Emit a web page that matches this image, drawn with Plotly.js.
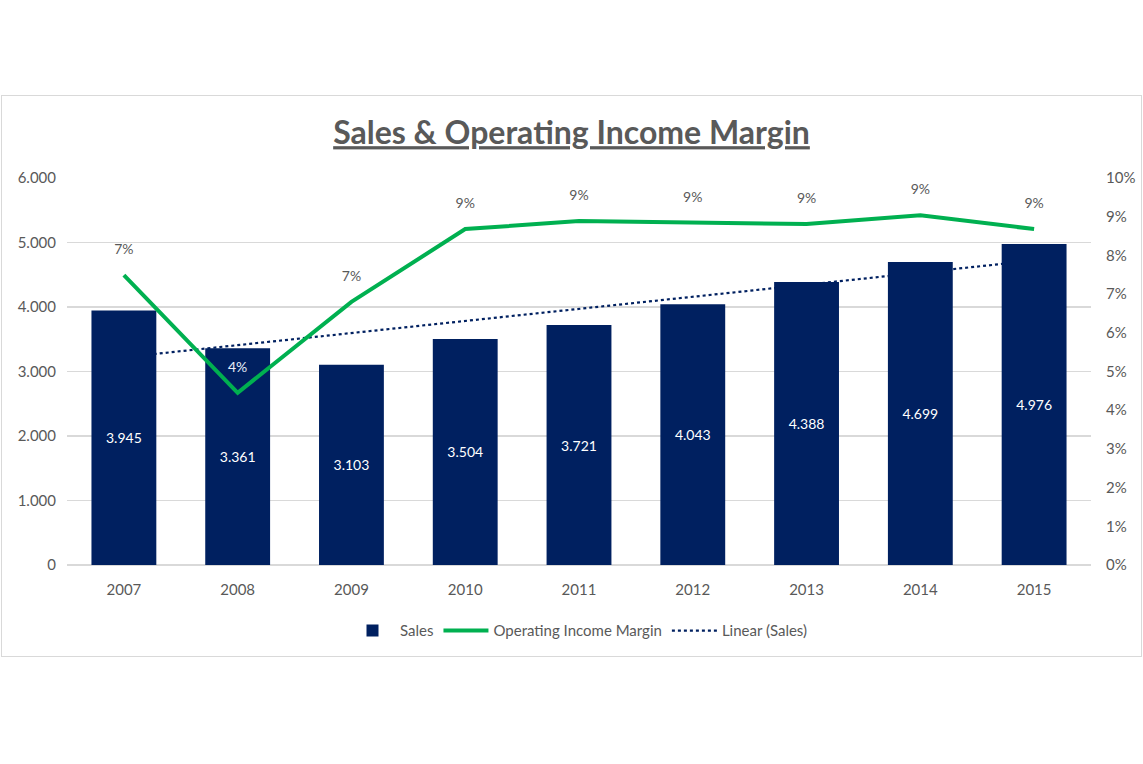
<!DOCTYPE html>
<html><head><meta charset="utf-8">
<script src="https://cdn.plot.ly/plotly-3.0.1.min.js"></script>
<style>
html,body{margin:0;padding:0;background:#fff;}
#wrap{position:relative;width:1143px;height:764px;}
#frame{position:absolute;left:1px;top:95px;width:1141px;height:562px;border:1px solid #d9d9d9;box-sizing:border-box;}
#chart{position:absolute;left:0;top:0;width:1143px;height:764px;}
</style></head>
<body>
<div id="wrap"><div id="frame"></div><div id="chart"></div></div>
<script>
const years = ['2007','2008','2009','2010','2011','2012','2013','2014','2015'];
const sales = [3945,3361,3103,3504,3721,4043,4388,4699,4976];
const margin = [0.0749,0.0445,0.0680,0.0868,0.0889,0.0884,0.0881,0.0904,0.0868];

// linear trendline (least squares) of sales
const n = sales.length;
const xs = sales.map((_, i) => i);
const mx = xs.reduce((a,b)=>a+b,0)/n;
const my = sales.reduce((a,b)=>a+b,0)/n;
let num = 0, den = 0;
for (let i=0;i<n;i++){ num += (xs[i]-mx)*(sales[i]-my); den += (xs[i]-mx)**2; }
const slope = num/den, icpt = my - slope*mx;
const trend = xs.map(x => icpt + slope*x);

const FONT = 'Lato, "Open Sans", sans-serif';
const GRAY = '#595959';
const labelColors = years.map(y => y === '2008' ? '#e8eef8' : GRAY);

const traces = [
  {type:'scatter', mode:'lines', name:'Linear (Sales)', x:years, y:trend,
   xaxis:'x', yaxis:'y', line:{color:'#002060', width:2.2, dash:'dot'}, legendrank:3, hoverinfo:'skip'},
  {type:'bar', name:'Sales', x:years, y:sales, xaxis:'x', yaxis:'y2',
   marker:{color:'#002060'}, texttemplate:'%{y:,}',
   textposition:'inside', insidetextanchor:'middle', textangle:0, constraintext:'none',
   insidetextfont:{color:'#ffffff', size:14, family:FONT}, legendrank:1},
  {type:'scatter', mode:'lines', name:'Operating Income Margin', x:years, y:margin,
   xaxis:'x', yaxis:'y3', line:{color:'#00B050', width:4}, legendrank:2},
  {type:'scatter', mode:'markers+text', name:'Margin labels', x:years, y:margin, showlegend:false,
   xaxis:'x', yaxis:'y3', marker:{size:26, opacity:0},
   texttemplate:'%{y:.0%}', textposition:'top center',
   textfont:{color:labelColors, size:14, family:FONT}}
];

const layout = {
  width:1143, height:764,
  paper_bgcolor:'rgba(0,0,0,0)', plot_bgcolor:'rgba(0,0,0,0)',
  separators:',.',
  font:{family:FONT, color:GRAY, size:14},
  margin:{l:67, r:52, t:178, b:199},
  title:{text:'<b><u>Sales & Operating Income Margin</u></b>', x:0.5, xanchor:'center',
         y:1-133/764, yanchor:'middle', font:{family:FONT, size:32, color:GRAY}},
  bargap:0.43,
  showlegend:true,
  legend:{orientation:'h', x:0.5, xanchor:'center', y:-0.17, yanchor:'middle', itemwidth:45,
          font:{family:FONT, size:15, color:GRAY}, traceorder:'normal'},
  xaxis:{type:'category', range:[-0.5, 8.5], showgrid:false, zeroline:false, showline:false, ticks:'',
         tickfont:{size:15, color:GRAY, family:FONT}, ticklabelstandoff:14},
  yaxis:{range:[0,6000], dtick:1000, tickformat:',', showgrid:true, gridcolor:'#d9d9d9', gridwidth:1.5,
         zeroline:true, zerolinecolor:'#d9d9d9', zerolinewidth:1.5, showline:false, ticks:'',
         tickfont:{size:15, color:GRAY, family:FONT}, ticklabelstandoff:10},
  yaxis2:{range:[0,6000], overlaying:'y', visible:false, showgrid:false, zeroline:false},
  yaxis3:{range:[0,0.10], dtick:0.01, tickformat:'.0%', overlaying:'y', side:'right', anchor:'x',
          showgrid:false, zeroline:false, showline:false, ticks:'',
          tickfont:{size:15, color:GRAY, family:FONT}, ticklabelstandoff:14}
};

Plotly.newPlot('chart', traces, layout, {displayModeBar:false, staticPlot:true});
</script>
</body></html>
